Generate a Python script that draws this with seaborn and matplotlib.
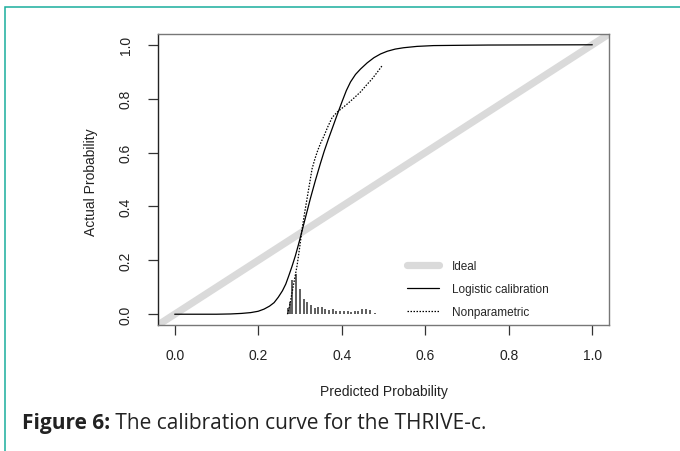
import matplotlib
matplotlib.use("Agg")
import matplotlib.pyplot as plt
from matplotlib.lines import Line2D
from matplotlib.patches import Rectangle
import seaborn as sns
import pandas as pd

# ---------------- data ----------------
logistic_x = [0.0, 0.10, 0.134, 0.16, 0.182, 0.200, 0.214, 0.227, 0.238, 0.248, 0.258,
              0.266, 0.273, 0.281, 0.289, 0.297, 0.305, 0.315, 0.325, 0.337, 0.349,
              0.358, 0.368, 0.379, 0.389, 0.401, 0.411, 0.421, 0.433, 0.445, 0.461,
              0.477, 0.493, 0.509, 0.528, 0.548, 0.58, 0.62, 0.68, 0.75, 1.0]
logistic_y = [0.0, 0.0, 0.001, 0.003, 0.006, 0.011, 0.019, 0.030, 0.043, 0.063, 0.087,
              0.112, 0.142, 0.178, 0.217, 0.262, 0.310, 0.370, 0.430, 0.497, 0.560,
              0.605, 0.650, 0.697, 0.740, 0.790, 0.830, 0.862, 0.890, 0.910, 0.933,
              0.952, 0.966, 0.976, 0.984, 0.989, 0.994, 0.997, 0.998, 0.999, 1.0]

nonpar_x = [0.270, 0.275, 0.281, 0.287, 0.293, 0.299, 0.305, 0.311, 0.317, 0.323,
            0.329, 0.336, 0.343, 0.350, 0.357, 0.367, 0.377, 0.389, 0.401, 0.413,
            0.429, 0.445, 0.459, 0.473, 0.485, 0.497]
nonpar_y = [0.0, 0.03, 0.08, 0.13, 0.18, 0.245, 0.316, 0.375, 0.43, 0.485,
            0.54, 0.578, 0.61, 0.637, 0.66, 0.697, 0.73, 0.75, 0.765, 0.78,
            0.802, 0.825, 0.850, 0.874, 0.898, 0.923]

spike_x = [0.272, 0.277, 0.281, 0.291, 0.300, 0.309, 0.318, 0.326, 0.335, 0.344,
           0.353, 0.361, 0.370, 0.379, 0.387, 0.396, 0.405, 0.414, 0.423, 0.432,
           0.440, 0.449, 0.458, 0.467, 0.480]
spike_h = [0.022, 0.046, 0.126, 0.148, 0.093, 0.058, 0.046, 0.036, 0.024, 0.027,
           0.027, 0.020, 0.015, 0.020, 0.013, 0.012, 0.013, 0.012, 0.010, 0.011,
           0.012, 0.018, 0.018, 0.016, 0.006]

ideal_pts = [0.0, 1.0]
tick_vals = [0.0, 0.2, 0.4, 0.6, 0.8, 1.0]
tick_labels = ["0.0", "0.2", "0.4", "0.6", "0.8", "1.0"]
legend_labels = ["Ideal", "Logistic calibration", "Nonparametric"]
x_label = "Predicted Probability"
y_label = "Actual Probability"
caption_bold = "Figure 6:"
caption_text = " The calibration curve for the THRIVE-c."

# ---------------- styling ----------------
sns.set_style("white")
plt.rcParams["font.family"] = ["Liberation Sans", "DejaVu Sans"]

W, H = 680, 452
fig = plt.figure(figsize=(W / 100, H / 100), dpi=100)

# teal frame of the figure panel
fig.patches.append(Rectangle((5 / W, -0.1), 1.2, 1 - 8 / H + 0.1,
                             transform=fig.transFigure, fill=False,
                             edgecolor="#1aae9c", linewidth=1.1))

ax = fig.add_axes([158 / W, 1 - 326 / H, 451 / W, 291 / H])
ax.set_facecolor("white")

ideal_color = "#dadada"
ax.axline((ideal_pts[0], ideal_pts[0]), (ideal_pts[1], ideal_pts[1]),
          color=ideal_color, lw=5.2, solid_capstyle="butt", zorder=1)

df_log = pd.DataFrame({"x": logistic_x, "y": logistic_y})
df_np = pd.DataFrame({"x": nonpar_x, "y": nonpar_y})
sns.lineplot(data=df_log, x="x", y="y", ax=ax, color="black", lw=0.9,
             sort=False, estimator=None, zorder=3)
sns.lineplot(data=df_np, x="x", y="y", ax=ax, color="black", lw=0.9,
             sort=False, estimator=None, zorder=3, linestyle=(0, (1.2, 1.2)))

ax.vlines(spike_x, 0, spike_h, color="#333333", lw=1.1, zorder=2)

ax.set_xlim(-0.04, 1.04)
ax.set_ylim(-0.04, 1.04)
ax.set_xticks(tick_vals)
ax.set_xticklabels(tick_labels)
ax.set_yticks(tick_vals)
ax.set_yticklabels(tick_labels, rotation=90, va="center")
ax.set_xlabel("")
ax.set_ylabel("")

for s in ["top", "right", "bottom"]:
    ax.spines[s].set_color("#777777")
    ax.spines[s].set_linewidth(1.0)
ax.spines["left"].set_color("#222222")
ax.spines["left"].set_linewidth(1.0)

ax.tick_params(axis="both", direction="out", length=7, width=0.9,
               color="#333333", labelsize=10, labelcolor="#222222")
ax.tick_params(axis="x", pad=9.8)
ax.tick_params(axis="y", pad=11)
ax.tick_params(left=True, bottom=True)

# axis titles
fig.text(91 / W, 1 - 182 / H, y_label, rotation=90, ha="center", va="center",
         fontsize=10, color="#222222")
fig.text(383.5 / W, 1 - 392 / H, x_label, ha="center", va="center",
         fontsize=10, color="#222222")

# legend
handles = [
    Line2D([], [], color=ideal_color, lw=5.2, solid_capstyle="round"),
    Line2D([], [], color="black", lw=0.9),
    Line2D([], [], color="black", lw=0.9, linestyle=(0, (1.2, 1.2))),
]
ax.legend(handles, legend_labels, loc="upper left",
          bbox_to_anchor=(407 / W, 1 - 261 / H), bbox_transform=fig.transFigure,
          frameon=False, fontsize=8.5, handlelength=2.7, handletextpad=1.1,
          labelspacing=0.95, borderpad=0, borderaxespad=0)

# caption
t1 = fig.text(22 / W, 1 - 424 / H, caption_bold, fontsize=15, fontweight="bold",
              family=["Open Sans", "DejaVu Sans"], ha="left", va="center",
              color="#222222")
fig.canvas.draw()
bb = t1.get_window_extent()
fig.text(bb.x1 / W, 1 - 424 / H, caption_text, fontsize=15,
         family=["Open Sans", "DejaVu Sans"], ha="left", va="center",
         color="#222222")

fig.savefig("out.png", dpi=100)
